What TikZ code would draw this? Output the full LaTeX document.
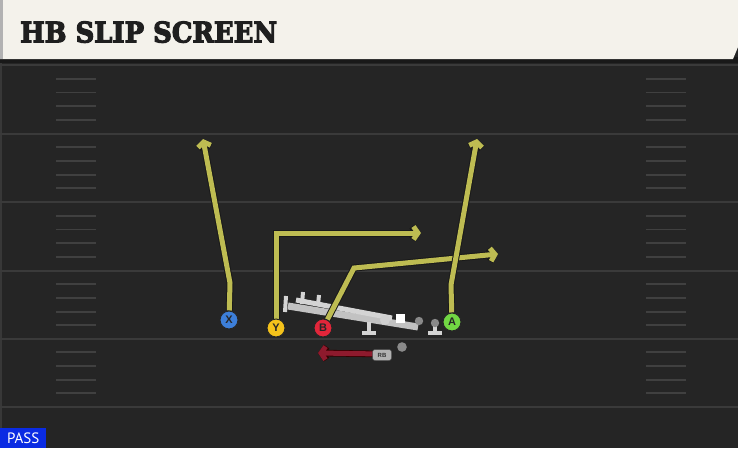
\documentclass[tikz,border=0pt]{standalone}
\usepackage{fontspec}
\usepackage{graphicx}
\setmainfont{Liberation Sans}
\setsansfont{Liberation Sans}
\newfontfamily\titlefont[BoldFeatures={FakeBold=4}]{DejaVu Serif}
\newfontfamily\passfont{PT Sans}
\usetikzlibrary{arrows.meta}
\definecolor{fieldbg}{HTML}{252525}
\definecolor{headerbg}{HTML}{F4F2EB}
\definecolor{yardc}{HTML}{3A3A3A}
\definecolor{hashc}{HTML}{404040}
\definecolor{routec}{HTML}{BEBC52}
\definecolor{redroute}{HTML}{8E1A2D}
\definecolor{xblue}{HTML}{3D7FD9}
\definecolor{yyellow}{HTML}{F4C21B}
\definecolor{bred}{HTML}{E2263A}
\definecolor{agreen}{HTML}{71D743}
\definecolor{passblue}{HTML}{0A2BE3}
\definecolor{linec}{HTML}{D4D4D4}
\definecolor{linec2}{HTML}{C2C2C2}
\definecolor{dotc}{HTML}{8A8A8A}
\tikzset{
  player/.style={circle, draw=black!85, line width=1pt, minimum size=18pt, inner sep=0pt,
    font=\sffamily\bfseries\fontsize{11}{11}\selectfont, text=black!85},
  route/.style={draw=routec, line width=5pt, line join=miter,
    -{Straight Barb[length=4.5pt,width=13pt]},
    preaction={draw=black!90, line width=7pt, -{Straight Barb[length=4.5pt,width=13pt]}}},
  rbroute/.style={draw=redroute, line width=5pt,
    -{Straight Barb[length=4.5pt,width=13pt]},
    preaction={draw=black!80!red, line width=6.6pt, -{Straight Barb[length=4.5pt,width=13pt]}}},
  yard/.style={draw=yardc, line width=2pt},
  hashm/.style={draw=hashc, line width=1.8pt},
  olbar/.style={draw=linec, line width=4pt},
}
\begin{document}
\begin{tikzpicture}[x=1pt,y=-1pt]
\useasboundingbox (0,0) rectangle (738,448);
% field
\fill[fieldbg] (0,0) rectangle (738,448);
\fill[black!78] (0,59) rectangle (2,448);
% yard lines
\foreach \yy in {65,133.5,202,270.5,338.5,407}{
  \draw[yard] (0,\yy) -- (738,\yy);
}
% hash marks
\foreach \yy in {65,133.5,202,270.5,338.5}{
  \foreach \k in {1,2,3,4}{
    \draw[hashm] (56,\yy+13.7*\k) -- (96,\yy+13.7*\k);
    \draw[hashm] (646,\yy+13.7*\k) -- (686,\yy+13.7*\k);
  }
}
% header
\fill[black!90] (0,57) rectangle (738,63);
\fill[headerbg] (0,0) -- (738,0) -- (738,47) -- (733,59) -- (0,59) -- cycle;
\fill[black!30] (0,0) rectangle (3,59);
\node[anchor=south west, inner sep=0pt, text=black!88] (title) at (20,43)
  {\resizebox{257pt}{21pt}{\titlefont\bfseries HB SLIP SCREEN}};
% offensive line
\draw[olbar, draw=linec2, line width=7pt] (288,306) -- (418,327);
\draw[olbar, line width=5pt] (296,300) -- (392,318);
\draw[olbar] (286,296) -- (285,312);
\draw[olbar] (303,292) -- (302,304);
\draw[olbar] (319,295) -- (318,305);
\fill[linec!110] (385,320) circle (5);
\fill[white] (396,314) rectangle (405,323);
\fill[dotc] (419,321) circle (4.2);
\draw[olbar] (369,322) -- (369,332);
\draw[olbar] (362,333) -- (376,333);
\draw[olbar] (435,325) -- (435,332);
\draw[olbar] (428,333) -- (442,333);
\fill[dotc] (435,323) circle (4.2);
% players
\node[player, fill=xblue] (X) at (229,320) {X};
\node[player, fill=yyellow] (Y) at (276,328) {Y};
\node[player, fill=bred] (B) at (323,328) {B};
\node[player, fill=agreen] (A) at (452,322) {A};
% routes
\coordinate (xb) at (230,283);
\coordinate (xt) at (203,139);
\coordinate (yb) at (276,233);
\coordinate (yt) at (421,233);
\coordinate (bb) at (354,268);
\coordinate (bt) at (498,254);
\coordinate (ab) at (451,285);
\coordinate (atip) at (477,139);
\draw[route] (X) -- (xb) -- (xt);
\draw[route] (Y) -- (yb) -- (yt);
\draw[route] (B) -- (bb) -- (bt);
\draw[route] (A) -- (ab) -- (atip);
% redraw players over route starts
\node[player, fill=xblue] at (229,320) {X};
\node[player, fill=yyellow] at (276,328) {Y};
\node[player, fill=bred] at (323,328) {B};
\node[player, fill=agreen] at (452,322) {A};
% running back
\coordinate (rbt) at (318,353);
\node[fill=none, inner sep=0pt, minimum width=18pt, minimum height=10pt] (RBpos) at (382,354) {};
\draw[rbroute] (RBpos) -- (rbt);
\node[fill=black!30, draw=black!70, line width=0.5pt, rounded corners=2.5pt, inner sep=0pt,
  minimum width=19pt, minimum height=11pt, text=black!80,
  font=\sffamily\bfseries\fontsize{6}{6}\selectfont] (RB) at (382,355) {RB};
\fill[dotc] (402,347) circle (4.8);
% pass label
\node[fill=passblue, anchor=south west, minimum width=46pt, minimum height=20pt, inner sep=0pt,
  text=white, font=\passfont\fontsize{15}{15}\selectfont] (pass) at (0,448) {PASS};
\end{tikzpicture}
\end{document}
